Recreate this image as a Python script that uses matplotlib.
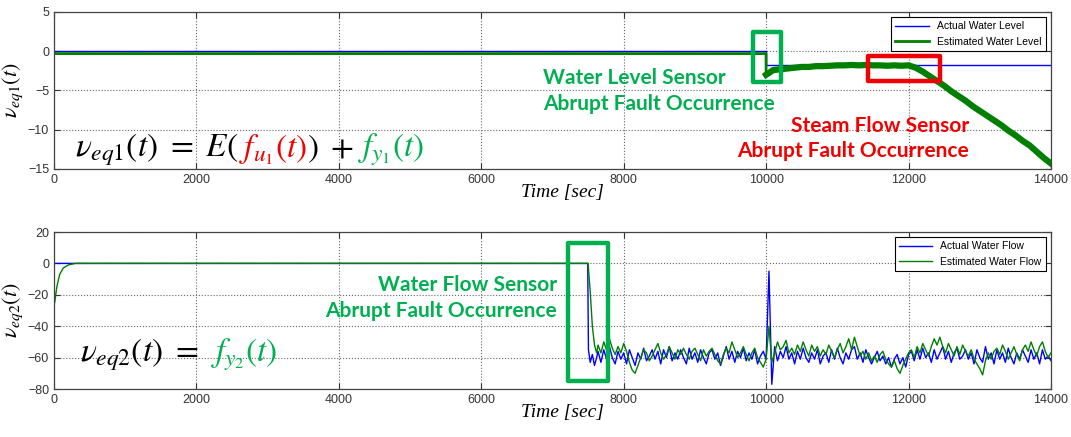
import numpy as np
import matplotlib
matplotlib.use('Agg')
import matplotlib.pyplot as plt
import matplotlib.transforms as mtransforms
from matplotlib.patches import Rectangle

plt.rcParams['font.family'] = ['Liberation Sans Narrow', 'Liberation Sans', 'DejaVu Sans']
plt.rcParams['mathtext.fontset'] = 'stix'

# --- water level residual (upper panel) ---
level_actual_t = [0, 10000, 10000, 14000]
level_actual = [0.0, 0.0, -1.8, -1.8]

level_est_t = [0, 9999] + list(np.arange(10000, 14001, 100))
level_est = [-0.3, -0.3,
             -3.0, -2.4, -2.3, -2.2, -2.1, -2.0, -2.0, -1.9, -1.9, -1.85,
             -1.8, -1.8, -1.75, -1.8, -1.75, -1.8, -1.8, -1.85, -1.8, -1.85,
             -1.8, -2.1, -2.6, -3.2, -3.8, -4.4, -5.1, -5.7, -6.3, -7.0,
             -7.6, -8.2, -8.8, -9.4, -10.1, -10.7, -11.4, -12.0, -12.8, -13.6,
             -14.3]

# --- water flow residual (lower panel) ---
flow_grid = list(np.arange(7640, 14001, 40))

flow_actual_t = [0, 7495, 7505, 7530, 7560, 7590, 7620] + flow_grid
flow_actual = [0, 0, -55, -63, -58, -65, -60,
               -56, -63, -55, -61, -53, -60, -64, -56, -61, -57,
               -64, -55, -60, -65, -57, -61, -54, -62, -59, -55,
               -61, -56, -64, -55, -60, -53, -62, -57, -61, -55,
               -60, -64, -54, -61, -57, -63, -55, -60, -64, -57,
               -55, -61, -57, -65, -59, -53, -61, -56, -63, -56,
               -60, -54, -62, -57, -61, -55, -64, -59, -56, -61,
               -5, -77, -53, -62, -56, -60, -53, -61, -57, -64,
               -56, -61, -54, -60, -63, -57, -61, -55, -64, -59,
               -57, -63, -55, -61, -54, -60, -64, -57, -61, -55,
               -53, -61, -57, -63, -55, -60, -64, -60, -56, -62,
               -59, -64, -60, -66, -61, -58, -64, -60, -66, -58,
               -56, -62, -55, -61, -54, -60, -57, -63, -55, -61,
               -57, -53, -61, -56, -63, -57, -54, -61, -59, -55,
               -61, -57, -64, -55, -60, -63, -53, -61, -57, -64,
               -55, -61, -57, -63, -54, -60, -64, -57, -61, -55,
               -59, -63, -55, -61, -57, -64, -55, -61, -59, -62]

flow_est_t = [0, 10, 40, 80, 130, 200, 300, 7500, 7530, 7560, 7590, 7620] + flow_grid
flow_est = [-10, -25, -15, -7, -3, -1, 0, 0, -18, -40, -52, -57,
            -52, -57, -50, -55, -48, -54, -58, -53, -57, -51,
            -56, -63, -68, -70, -65, -60, -55, -57, -62, -59,
            -55, -51, -57, -61, -58, -53, -57, -61, -55, -58,
            -54, -58, -61, -56, -54, -58, -62, -55, -59, -56,
            -54, -58, -62, -64, -58, -54, -57, -50, -55, -60,
            -57, -53, -58, -62, -57, -54, -60, -63, -66, -61,
            -40, -63, -57, -50, -55, -53, -49, -57, -54, -58,
            -52, -56, -50, -55, -59, -52, -56, -53, -59, -55,
            -58, -52, -56, -60, -55, -51, -57, -53, -48, -55,
            -47, -53, -59, -56, -61, -57, -62, -59, -63, -58,
            -56, -61, -64, -66, -62, -67, -70, -65, -61, -57,
            -55, -60, -53, -57, -51, -55, -59, -53, -48, -52,
            -47, -53, -57, -51, -55, -59, -53, -58, -52, -56,
            -59, -55, -61, -64, -67, -71, -62, -57, -61, -56,
            -54, -58, -52, -56, -61, -57, -53, -58, -62, -55,
            -52, -56, -50, -55, -59, -53, -50, -56, -60, -57]

BLUE = '#0000ff'
LINE_GREEN = '#007f00'
NOTE_GREEN = '#00b050'
NOTE_RED = '#f00000'


def style_axes(ax, yticks):
    ax.set_xlim(0, 14000)
    ax.set_xticks([0, 2000, 4000, 6000, 8000, 10000, 12000, 14000])
    ax.set_yticks(yticks)
    ax.set_ylim(yticks[0], yticks[-1])
    ax.grid(True, linestyle=':', color='#666666', linewidth=0.8)
    ax.tick_params(direction='in', top=True, right=True, labelsize=9,
                   colors='#333333', length=4)
    for s in ax.spines.values():
        s.set_color('#444444')
        s.set_linewidth(0.9)


def colored_eq(ax, x, y, parts, size):
    # put several mathtext pieces side by side on one baseline
    fig = ax.figure
    renderer = fig.canvas.get_renderer()
    trans = ax.transData
    for s, c in parts:
        txt = ax.text(x, y, s, color=c, fontsize=size, va='baseline',
                      transform=trans, zorder=6)
        w = txt.get_window_extent(renderer).width
        trans = mtransforms.offset_copy(trans, fig=fig, x=w, units='dots')


fig = plt.figure(figsize=(10.71, 4.37), dpi=100)
ax1 = fig.add_axes([0.0504, 0.6133, 0.9309, 0.3593])
ax2 = fig.add_axes([0.0504, 0.1098, 0.9309, 0.3593])

# upper panel
ax1.plot(level_actual_t, level_actual, color=BLUE, lw=1.0, label='Actual Water Level')
ax1.plot(level_est_t, level_est, color=LINE_GREEN, lw=2.0, label='Estimated Water Level')
ax1.plot(level_est_t[2:], level_est[2:], color=LINE_GREEN, lw=4.5)
style_axes(ax1, [-15, -10, -5, 0, 5])
ax1.legend(loc='upper right', fancybox=False, edgecolor='black', fontsize=7.5,
           handlelength=3.2, borderaxespad=0.5, framealpha=1)
ax1.get_legend().get_frame().set_linewidth(0.8)

ax1.add_patch(Rectangle((9817, -3.9), 394, 6.35, fill=False, ec=NOTE_GREEN,
                        lw=3.2, joinstyle='round', zorder=5))
ax1.add_patch(Rectangle((11433, -3.8), 1011, 3.2, fill=False, ec=NOTE_RED,
                        lw=3.2, joinstyle='round', zorder=5))
ax1.text(6867, -5.06, 'Water Level Sensor\nAbrupt Fault Occurrence', color=NOTE_GREEN,
         family='Lato', weight='bold', fontsize=15, ha='left', va='center',
         linespacing=1.35, zorder=6)
ax1.text(12851, -11.1, 'Steam Flow Sensor\nAbrupt Fault Occurrence', color=NOTE_RED,
         family='Lato', weight='bold', fontsize=15, ha='right', va='center',
         multialignment='right', linespacing=1.35, zorder=6)
ax1.set_ylabel(r'$\nu_{eq1}(t)$', fontsize=16, labelpad=2)

# lower panel
ax2.plot(flow_actual_t, flow_actual, color=BLUE, lw=1.0, label='Actual Water Flow')
ax2.plot(flow_est_t, flow_est, color=LINE_GREEN, lw=1.0, label='Estimated Water Flow')
style_axes(ax2, [-80, -60, -40, -20, 0, 20])
ax2.legend(loc='upper right', fancybox=False, edgecolor='black', fontsize=7.5,
           handlelength=3.2, borderaxespad=0.5, framealpha=1)
ax2.get_legend().get_frame().set_linewidth(0.8)

ax2.add_patch(Rectangle((7224, -74.9), 562, 87.7, fill=False, ec=NOTE_GREEN,
                        lw=3.2, joinstyle='round', zorder=5))
ax2.text(7065, -22.0, 'Water Flow Sensor\nAbrupt Fault Occurrence', color=NOTE_GREEN,
         family='Lato', weight='bold', fontsize=15, ha='right', va='center',
         multialignment='right', linespacing=1.35, zorder=6)
ax2.set_ylabel(r'$\nu_{eq2}(t)$', fontsize=16, labelpad=2)

for yy in (193, 413):
    fig.text(562 / 1071, 1 - yy / 437, 'Time [sec]', family='Liberation Serif',
             style='italic', fontsize=14, ha='center', va='center')

colored_eq(ax1, 295, -13.47, [(r'$\nu_{eq1}(t)\ =\ E($', 'black'),
                              (r'$f_{u_1}(t)$', NOTE_RED),
                              (r'$)\ +$', 'black'),
                              (r'$\ f_{y_1}(t)$', NOTE_GREEN)], 24)
colored_eq(ax2, 365, -62.6, [(r'$\nu_{eq2}(t)\ =$', 'black'),
                             (r'$\ \ f_{y_2}(t)$', NOTE_GREEN)], 24)

fig.savefig('out.png', dpi=100)
